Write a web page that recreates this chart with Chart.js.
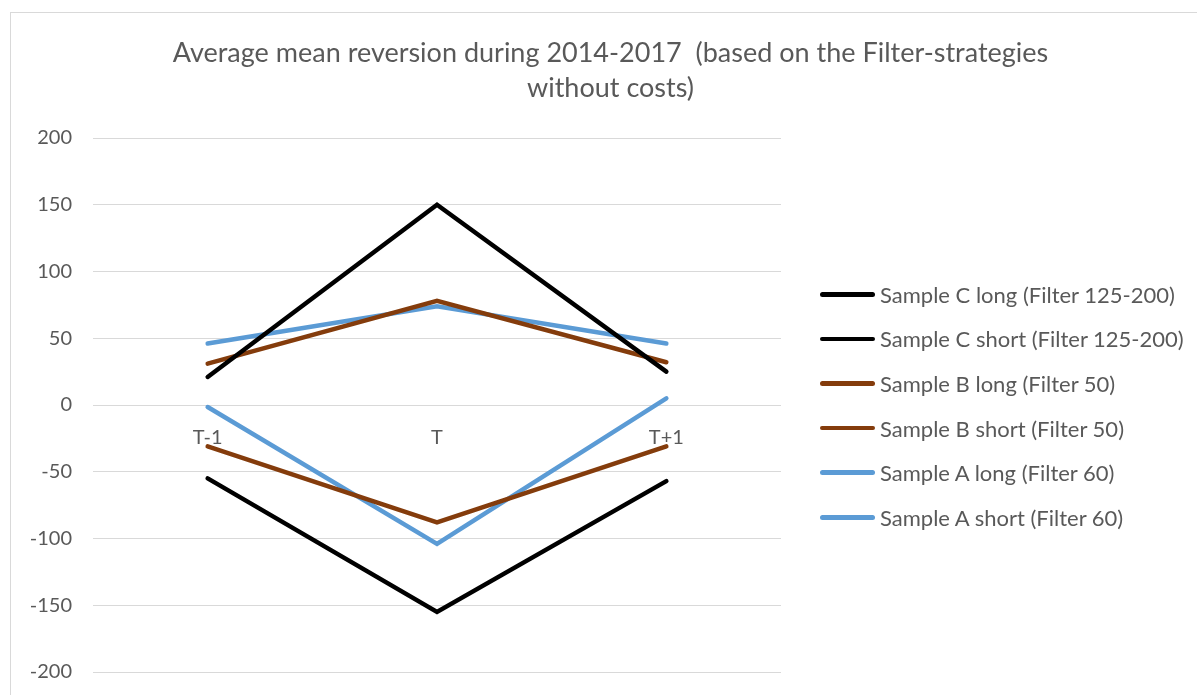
<!DOCTYPE html>
<html>
<head>
<meta charset="utf-8">
<script src="https://cdn.jsdelivr.net/npm/chart.js@4.4.1/dist/chart.umd.min.js"></script>
<style>
  html, body { margin: 0; padding: 0; background: #fff; }
  #frame {
    position: absolute; left: 10px; top: 12px; width: 1200px; height: 700px;
    border: 1px solid #d9d9d9; box-sizing: border-box;
  }
  #wrap { position: absolute; left: 0; top: 0; width: 1197px; height: 695px; }
  #legend {
    position: absolute; left: 820px; top: 272px; margin: 0; padding: 0; list-style: none;
    font-family: Lato, sans-serif; font-size: 22px; color: #595959;
  }
  #legend li { height: 44.6px; display: flex; align-items: center; white-space: nowrap; }
  #legend .swatch { width: 55px; height: 4.5px; border-radius: 2.5px; margin-right: 5px; }
</style>
</head>
<body>
<div id="frame"></div>
<div id="wrap"><canvas id="chart"></canvas></div>
<ul id="legend"></ul>
<script>
const categories = ["T-1", "T", "T+1"];
const yTicks = [-200, -150, -100, -50, 0, 50, 100, 150, 200];

const seriesNames = [
  "Sample C long (Filter 125-200)",
  "Sample C short (Filter 125-200)",
  "Sample B long (Filter 50)",
  "Sample B short (Filter 50)",
  "Sample A long (Filter 60)",
  "Sample A short (Filter 60)"
];
const sampleCLong = [21, 150, 25];
const sampleCShort = [-55, -155, -57];
const sampleBLong = [31, 78, 32];
const sampleBShort = [-31, -88, -31];
const sampleALong = [46, 74, 46];
const sampleAShort = [-1.5, -104, 5];

const seriesValues = [sampleCLong, sampleCShort, sampleBLong, sampleBShort, sampleALong, sampleAShort];
const seriesColors = ["#000000", "#000000", "#843c0c", "#843c0c", "#5b9bd5", "#5b9bd5"];

const textColor = "#595959";
const gridColor = "#d9d9d9";

const datasets = seriesNames.map((name, i) => ({
  label: name,
  data: seriesValues[i],
  yAxisID: "y",
  borderColor: seriesColors[i],
  backgroundColor: seriesColors[i],
  borderWidth: 4.5,
  borderCapStyle: "round",
  pointRadius: 0,
  pointHoverRadius: 0,
  tension: 0,
  fill: false
}));

const chart = new Chart(document.getElementById("chart").getContext("2d"), {
  type: "line",
  data: { labels: categories, datasets: datasets },
  options: {
    responsive: true,
    maintainAspectRatio: false,
    animation: false,
    layout: { padding: { left: 24, right: 0, top: 0, bottom: 23 } },
    plugins: {
      title: {
        display: true,
        text: ["Average mean reversion during 2014-2017  (based on the Filter-strategies", "without costs)"],
        color: textColor,
        font: { family: "Lato", size: 27, weight: "normal", lineHeight: "35px" },
        padding: { top: 36, bottom: 32 }
      },
      legend: { display: false },
      tooltip: { enabled: false }
    },
    scales: {
      y: {
        min: -200,
        max: 200,
        afterBuildTicks: (scale) => { scale.ticks = yTicks.map(v => ({ value: v })); },
        afterFit: (scale) => {
          scale.width = 69;
          scale.paddingTop = 0;
          scale.paddingBottom = 0;
        },
        ticks: { color: textColor, font: { family: "Lato", size: 20 }, padding: 21 },
        grid: { color: gridColor, lineWidth: 1, drawTicks: false },
        border: { display: false }
      },
      // empty axis that keeps room for the legend on the right
      legendSpace: {
        axis: "y",
        position: "right",
        ticks: { display: false },
        grid: { display: false },
        border: { display: false },
        afterFit: (scale) => { scale.width = 416; }
      },
      x: {
        position: { y: 0 },
        offset: true,
        ticks: { color: textColor, font: { family: "Lato", size: 20 }, padding: 21 },
        grid: { display: false, drawTicks: false },
        border: { display: false }
      }
    }
  }
});

// legend built from the chart's datasets
const legendEl = document.getElementById("legend");
chart.data.datasets.forEach((ds) => {
  const li = document.createElement("li");
  const swatch = document.createElement("span");
  swatch.className = "swatch";
  swatch.style.background = ds.borderColor;
  li.appendChild(swatch);
  li.appendChild(document.createTextNode(ds.label));
  legendEl.appendChild(li);
});
</script>
</body>
</html>
